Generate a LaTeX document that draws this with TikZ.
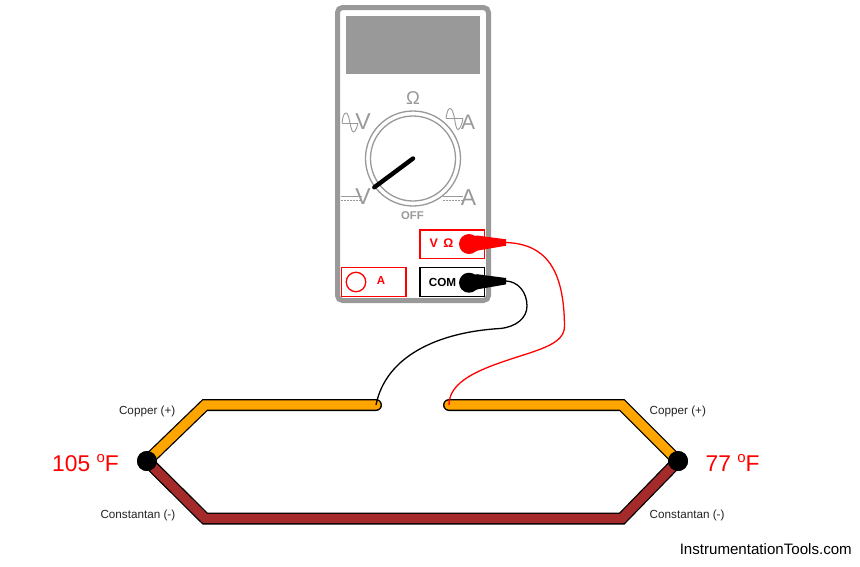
\documentclass[tikz,border=0pt]{standalone}
\usepackage{fontspec}
\setmainfont{Liberation Sans}
\definecolor{metergrey}{HTML}{999999}
\definecolor{copperc}{HTML}{FFA500}
\definecolor{constc}{HTML}{A52A2A}
\definecolor{lblc}{HTML}{222222}
\tikzset{
  band/.style={line width=12pt,draw=black,line cap=round,line join=miter},
  bandfill/.style={line width=9.4pt,line cap=round,line join=miter},
  dial/.style={draw=metergrey,line width=1.3pt,fill=white,circle,inner sep=0pt},
  dialtext/.style={text=metergrey,inner sep=0pt,font=\fontsize{23}{23}\selectfont},
  port/.style={draw=red,line width=1.4pt,fill=white,minimum height=28.5pt,inner sep=0pt},
  wirelabel/.style={text=lblc,inner sep=0pt,font=\fontsize{11.7}{13}\selectfont},
  temp/.style={text=red,inner sep=0pt,font=\fontsize{22.8}{25}\selectfont},
  junction/.style={circle,fill=black,minimum size=20pt,inner sep=0pt},
  probehead/.style={circle,minimum size=20pt,inner sep=0pt},
  icon/.style={draw=metergrey,line width=0.9pt}
}
\newcommand{\degsup}{\raisebox{0.42em}{\fontsize{15}{15}\selectfont o}}
\begin{document}
\begin{tikzpicture}[x=1pt,y=-1pt]
\useasboundingbox (0,0) rectangle (860,566);
% meter
\node[draw=metergrey,line width=5pt,rounded corners=5pt,fill=white,minimum width=151pt,minimum height=293pt,inner sep=0pt] (meter) at (413,154) {};
\node[fill=metergrey,minimum width=134pt,minimum height=58pt,inner sep=0pt] (display) at (413,45) {};
\node[dial,minimum size=95pt] (dialouter) at (413,158.5) {};
\node[dial,minimum size=85pt] (dialinner) at (413,158.5) {};
\coordinate (knobtip) at (374.3,187.3);
\draw[line width=4.4pt,line cap=round] (dialinner.center) -- (knobtip);
\node[text=metergrey,inner sep=0pt,font=\fontsize{18.5}{18.5}\selectfont] (ohm) at (413,98.5) {Ω};
\node[dialtext,font=\fontsize{23}{23}\selectfont] (vac) at (363,121.5) {V};
\node[dialtext,font=\fontsize{21}{21}\selectfont] (aac) at (468,122.5) {A};
\node[dialtext] (vdc) at (363,197) {V};
\node[dialtext] (adc) at (468.5,197.5) {A};
\node[text=metergrey,inner sep=0pt,font=\bfseries\fontsize{11.3}{11}\selectfont] (off) at (412.5,216) {OFF};
% AC icons
\draw[icon] (342,123) -- (358,123);
\draw[icon] (342,123) .. controls (343,115) and (344.5,113) .. (346,113) .. controls (348,113) and (349,118) .. (350,123) .. controls (351,128) and (352,132) .. (353.5,132) .. controls (355.5,132) and (357,127) .. (358,123);
\draw[icon] (446,118.5) -- (463,118.5);
\draw[icon] (446,118.5) .. controls (447,111) and (448.5,108.5) .. (450,108.5) .. controls (452,108.5) and (453.5,113) .. (454.5,118.5) .. controls (455.5,125) and (456.5,129.5) .. (458,129.5) .. controls (460,129.5) and (462,124) .. (463,118.5);
% DC icons
\draw[icon] (341,196) -- (362,196);
\draw[icon,dash pattern=on 2pt off 1pt] (341,200.5) -- (362,200.5);
\draw[icon] (443,196) -- (463,196);
\draw[icon,dash pattern=on 2pt off 1pt] (443,200.5) -- (463,200.5);
% ports
\node[port,minimum width=64.5pt] (vport) at (452.2,244.2) {};
\node[port,draw=black,minimum width=64.5pt] (comport) at (452.2,282) {};
\node[port,minimum width=64.5pt] (aport) at (373.8,282) {};
\node[circle,draw=red,line width=1.3pt,minimum size=19.5pt,inner sep=0pt] (ajack) at (356,282) {};
\node[text=red,inner sep=0pt,font=\bfseries\fontsize{11.5}{11}\selectfont] (alabel) at (381,280.5) {A};
\node[text=red,inner sep=0pt,font=\bfseries\fontsize{12.5}{12}\selectfont] (vlabel) at (441.5,243.5) {V\hspace{0.45em}Ω};
\node[inner sep=0pt,font=\bfseries\fontsize{11.7}{12}\selectfont] (comlabel) at (442.5,282.5) {COM};
% thermocouple
\coordinate (cutl) at (376,405);
\coordinate (cutr) at (449,405);
\node[junction] (hot) at (147,461) {};
\node[junction] (cold) at (678,461) {};
\coordinate (tl) at (205,405);
\coordinate (tr) at (622,405);
\coordinate (bl) at (205,518.5);
\coordinate (br) at (622,518.5);
\draw[band] (hot.center) -- (bl) -- (br) -- (cold.center);
\draw[bandfill,draw=constc] (hot.center) -- (bl) -- (br) -- (cold.center);
\draw[band] (hot.center) -- (tl) -- (cutl);
\draw[bandfill,draw=copperc] (hot.center) -- (tl) -- (cutl);
\draw[band] (cutr) -- (tr) -- (cold.center);
\draw[bandfill,draw=copperc] (cutr) -- (tr) -- (cold.center);
\node[junction] at (hot.center) {};
\node[junction] at (cold.center) {};
% probes
\node[probehead,fill=red] (redhead) at (469,244) {};
\node[probehead,fill=black] (blackhead) at (469,282.7) {};
\coordinate (redend) at (506,242.5);
\coordinate (blackend) at (506,281);
\fill[red] (474,236) -- (477,235.5) -- (506,239.3) -- (506,245.7) -- (478,250.5) -- (474,252) -- cycle;
\fill[black] (474,274.7) -- (477,274.2) -- (506,278) -- (506,284.4) -- (478,289.2) -- (474,290.7) -- cycle;
% leads
\draw[red,line width=1.3pt] (redend) .. controls (545,244) and (564,268) .. (564.5,326) .. controls (564.7,345) and (537,350) .. (503,361.7) .. controls (470,373) and (449,385) .. (cutr);
\draw[black,line width=1.3pt] (blackend) .. controls (518,281.5) and (527,292) .. (527,306) .. controls (527,318) and (516,327) .. (500,328.5) .. controls (440,332) and (386,355) .. (cutl);
% labels
\node[wirelabel,anchor=east] (cul) at (175.5,411.5) {Copper (+)};
\node[wirelabel,anchor=east] (conl) at (175.5,515.5) {Constantan (-)};
\node[wirelabel,anchor=west] (cur) at (649.5,411.5) {Copper (+)};
\node[wirelabel,anchor=west] (conr) at (649.5,515.5) {Constantan (-)};
\node[temp,anchor=east] (thot) at (119,463) {105 \degsup F};
\node[temp,anchor=west] (tcold) at (705.5,463) {77 \degsup F};
\node[inner sep=0pt,anchor=east,font=\fontsize{15.1}{16}\selectfont] (brand) at (852,549.5) {InstrumentationTools.com};
\end{tikzpicture}
\end{document}
